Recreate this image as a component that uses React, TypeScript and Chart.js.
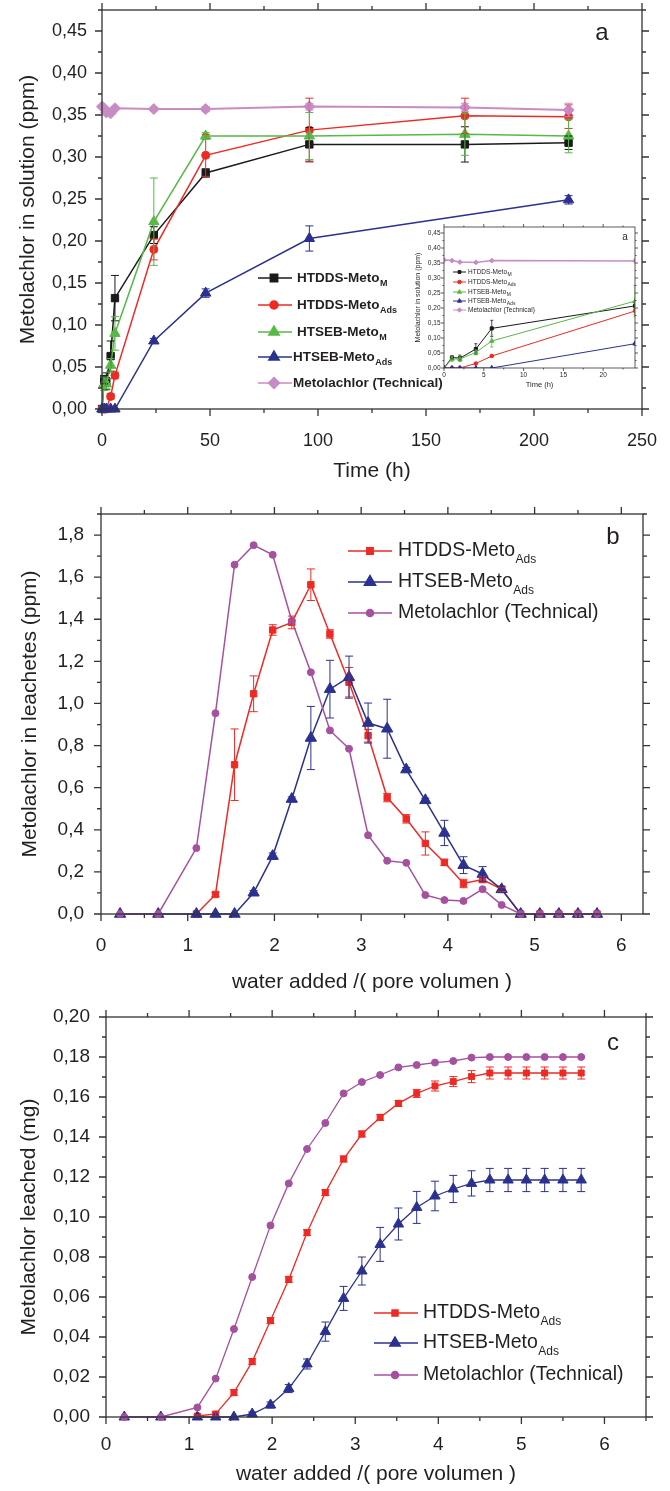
import React, { useEffect, useRef } from 'react';
import { Chart, registerables } from 'chart.js';
import { drawPoint } from 'chart.js/helpers';

Chart.register(...registerables);

const FONT = '"Liberation Sans", Arial, Helvetica, sans-serif';
const TXT = '#231f20';
const BLACK = '#1a1a1a';
const RED = '#ee2a24';
const GREEN = '#58b947';
const BLUE = '#2b3190';
const LILAC = '#c98bc4';
const PURPLE = '#a5519f';

// ---------- Panel a : Metolachlor in solution vs time ----------
const timeA = [0, 1, 2, 4, 6, 24, 48, 96, 168, 216];
const htddsM_A = [0, 0.035, 0.033, 0.063, 0.132, 0.207, 0.281, 0.315, 0.315, 0.317];
const htddsM_AErr = [0, 0.005, 0.01, 0.018, 0.027, 0.01, 0.005, 0.02, 0.021, 0.008];
const htddsAds_A = [0, 0, 0, 0.015, 0.04, 0.19, 0.302, 0.332, 0.349, 0.348];
const htddsAds_AErr = [0, 0, 0, 0.003, 0.004, 0.0125, 0.025, 0.038, 0.021, 0.014];
const htsebM_A = [0, 0.03, 0.03, 0.052, 0.09, 0.223, 0.325, 0.325, 0.327, 0.325];
const htsebM_AErr = [0, 0.008, 0.006, 0.008, 0.02, 0.052, 0.004, 0.028, 0.025, 0.02];
const htsebAds_A = [0, 0, 0, 0, 0, 0.081, 0.138, 0.203, null, 0.249];
const htsebAds_AErr = [0, 0, 0, 0, 0, 0.003, 0.005, 0.015, null, 0.005];
const technical_A = [0.36, 0.358, 0.353, 0.352, 0.358, 0.357, 0.357, 0.36, 0.359, 0.356];
const technical_AErr = [0, 0, 0, 0, 0, 0.002, 0.003, 0.004, 0.005, 0.008];
const namesA = ['HTDDS-Meto', 'HTDDS-Meto', 'HTSEB-Meto', 'HTSEB-Meto', 'Metolachlor (Technical)'];
const subsA = ['M', 'Ads', 'M', 'Ads', ''];
const xTicksA = [0, 50, 100, 150, 200, 250];
const yTicksA = [0, 0.05, 0.1, 0.15, 0.2, 0.25, 0.3, 0.35, 0.4, 0.45];
const xTicksInset = [0, 5, 10, 15, 20];

// ---------- Panel b : Metolachlor in leachates ----------
const poreB = [0.22, 0.66, 1.1, 1.32, 1.54, 1.76, 1.98, 2.2, 2.42, 2.64, 2.86, 3.08, 3.3, 3.52, 3.74, 3.96, 4.18, 4.4, 4.62, 4.84, 5.06, 5.28, 5.5, 5.72];
const htddsAds_B = [null, null, 0, 0.093, 0.709, 1.046, 1.349, 1.385, 1.564, 1.33, 1.101, 0.847, 0.553, 0.452, 0.335, 0.245, 0.145, 0.164, 0.117, 0, 0, 0, 0, 0];
const htddsAds_BErr = [null, null, 0, 0.01, 0.17, 0.085, 0.025, 0.03, 0.075, 0.02, 0.07, 0.03, 0.02, 0.02, 0.055, 0.015, 0.02, 0.015, 0.01, 0, 0, 0, 0, 0];
const htsebAds_B = [0, 0, 0, 0, 0, 0.101, 0.275, 0.546, 0.836, 1.068, 1.125, 0.907, 0.88, 0.686, 0.54, 0.385, 0.232, 0.19, 0.117, 0, 0, 0, 0, 0];
const htsebAds_BErr = [0, 0, 0, 0, 0, 0.01, 0.015, 0.01, 0.15, 0.137, 0.1, 0.095, 0.14, 0.01, 0.01, 0.06, 0.04, 0.035, 0.015, 0, 0, 0, 0, 0];
const technical_B = [0, 0, 0.313, 0.954, 1.659, 1.752, 1.706, 1.393, 1.148, 0.872, 0.785, 0.374, 0.253, 0.243, 0.09, 0.066, 0.062, 0.118, 0.043, 0, 0, 0, 0, 0];
const namesBC = ['HTDDS-Meto', 'HTSEB-Meto', 'Metolachlor (Technical)'];
const subsBC = ['Ads', 'Ads', ''];
const xTicksBC = [0, 1, 2, 3, 4, 5, 6];
const yTicksB = [0, 0.2, 0.4, 0.6, 0.8, 1.0, 1.2, 1.4, 1.6, 1.8];

// ---------- Panel c : cumulative Metolachlor leached ----------
const poreC = [0.22, 0.66, 1.1, 1.32, 1.54, 1.76, 1.98, 2.2, 2.42, 2.64, 2.86, 3.08, 3.3, 3.52, 3.74, 3.96, 4.18, 4.4, 4.62, 4.84, 5.06, 5.28, 5.5, 5.72];
const htddsAds_C = [null, null, 0.0005, 0.0015, 0.0122, 0.0277, 0.0482, 0.0688, 0.0922, 0.1122, 0.129, 0.1415, 0.1498, 0.1568, 0.1618, 0.1655, 0.1677, 0.1702, 0.172, 0.172, 0.172, 0.172, 0.172, 0.172];
const htddsAds_CErr = [null, null, 0.0005, 0.001, 0.0015, 0.0015, 0.0015, 0.0015, 0.0015, 0.0015, 0.0015, 0.0015, 0.0015, 0.0015, 0.002, 0.0025, 0.0025, 0.003, 0.003, 0.003, 0.003, 0.003, 0.003, 0.003];
const htsebAds_C = [0, 0, 0, 0, 0, 0.0015, 0.006, 0.0142, 0.0265, 0.0427, 0.0593, 0.073, 0.0863, 0.0965, 0.1048, 0.1105, 0.114, 0.1168, 0.1185, 0.1185, 0.1185, 0.1185, 0.1185, 0.1185];
const htsebAds_CErr = [0, 0, 0, 0, 0, 0.001, 0.0015, 0.002, 0.0025, 0.0048, 0.006, 0.007, 0.0085, 0.008, 0.008, 0.0074, 0.0068, 0.0063, 0.0058, 0.0058, 0.0058, 0.0058, 0.0058, 0.0058];
const technical_C = [0, 0, 0.0048, 0.0192, 0.044, 0.07, 0.0958, 0.1168, 0.134, 0.147, 0.1618, 0.1675, 0.171, 0.1748, 0.176, 0.1772, 0.178, 0.1797, 0.18, 0.18, 0.18, 0.18, 0.18, 0.18];
const yTicksC = [0, 0.02, 0.04, 0.06, 0.08, 0.1, 0.12, 0.14, 0.16, 0.18, 0.2];

// ---------- helpers ----------
const comma = (d: number) => (v: number) => Number(v).toFixed(d).replace('.', ',');

function series(xs: number[], ys: any[], errs: any[], color: string, style: string, radius: number, lw: number, order: number, extra: any = {}) {
  return {
    data: xs.map((x, i) => ({ x, y: ys[i] })),
    errorBars: errs,
    borderColor: color,
    backgroundColor: color,
    pointBackgroundColor: color,
    pointBorderColor: color,
    pointStyle: style,
    pointRadius: radius,
    pointBorderWidth: 1,
    borderWidth: lw,
    tension: 0,
    spanGaps: true,
    clip: false,
    order,
    ...extra,
  };
}

function axis(o: any) {
  return {
    type: 'linear',
    min: o.min,
    max: o.max,
    bounds: 'data',
    grid: { display: false, drawTicks: false },
    border: { display: false },
    afterBuildTicks: (s: any) => {
      s.ticks = o.ticks.map((v: number) => ({ value: v }));
    },
    ticks: {
      padding: o.tickPad,
      font: { family: FONT, size: o.font },
      color: TXT,
      autoSkip: false,
      maxRotation: 0,
      minRotation: 0,
      callback: (v: any) => o.fmt(v),
    },
    title: {
      display: true,
      text: o.title,
      color: TXT,
      font: { family: FONT, size: o.titleFont },
      padding: o.titlePad,
    },
    afterFit: (s: any) => {
      if (o.horizontal) {
        s.height = o.size;
        s.paddingLeft = 0;
        s.paddingRight = 0;
      } else {
        s.width = o.size;
        s.paddingTop = 0;
        s.paddingBottom = 0;
      }
    },
  };
}

function framePlugin(o: any) {
  return {
    id: 'frame',
    afterDatasetsDraw(chart: any) {
      const { ctx, chartArea: ca, scales } = chart;
      const xs = scales.x;
      const ys = scales.y;
      ctx.save();
      ctx.strokeStyle = o.color;
      ctx.lineWidth = o.width;
      ctx.beginPath();
      const tick = (scale: any, major: number, minor: number, fn: any) => {
        const n = Math.floor((scale.max - scale.min) / minor + 1e-6);
        for (let i = 0; i <= n; i++) {
          const v = scale.min + i * minor;
          const isMajor = Math.abs(v / major - Math.round(v / major)) < 1e-6;
          fn(scale.getPixelForValue(v), isMajor ? o.majorLen : o.minorLen);
        }
      };
      tick(xs, o.xMajor, o.xMinor, (p: number, L: number) => {
        ctx.moveTo(p, ca.bottom);
        ctx.lineTo(p, ca.bottom + L);
        ctx.moveTo(p, ca.top);
        ctx.lineTo(p, ca.top - L);
      });
      tick(ys, o.yMajor, o.yMinor, (p: number, L: number) => {
        ctx.moveTo(ca.left, p);
        ctx.lineTo(ca.left - L, p);
        ctx.moveTo(ca.right, p);
        ctx.lineTo(ca.right + L, p);
      });
      ctx.stroke();
      ctx.strokeRect(ca.left, ca.top, ca.right - ca.left, ca.bottom - ca.top);
      ctx.restore();
    },
  };
}

function errorBarPlugin(o: any) {
  return {
    id: 'errorBars',
    afterDatasetsDraw(chart: any) {
      const { ctx, chartArea: ca } = chart;
      const yS = chart.scales.y;
      ctx.save();
      if (o.clip) {
        ctx.beginPath();
        ctx.rect(ca.left, ca.top, ca.right - ca.left, ca.bottom - ca.top);
        ctx.clip();
      }
      chart.data.datasets.forEach((ds: any, i: number) => {
        const errs = ds.errorBars;
        if (!errs) return;
        const meta = chart.getDatasetMeta(i);
        ctx.strokeStyle = ds.borderColor;
        ctx.lineWidth = o.width;
        meta.data.forEach((pt: any, j: number) => {
          const e = errs[j];
          const v = ds.data[j].y;
          if (e == null || v == null || e <= 0) return;
          const yT = yS.getPixelForValue(v + e);
          const yB = yS.getPixelForValue(v - e);
          const x = pt.x;
          ctx.beginPath();
          ctx.moveTo(x, yT);
          ctx.lineTo(x, yB);
          ctx.moveTo(x - o.cap, yT);
          ctx.lineTo(x + o.cap, yT);
          ctx.moveTo(x - o.cap, yB);
          ctx.lineTo(x + o.cap, yB);
          ctx.stroke();
        });
      });
      ctx.restore();
    },
  };
}

function legendPlugin(o: any) {
  return {
    id: 'subLegend',
    afterDraw(chart: any) {
      const ctx = chart.ctx;
      ctx.save();
      o.items.forEach((it: any) => {
        ctx.strokeStyle = it.color;
        ctx.lineWidth = o.lineWidth;
        ctx.beginPath();
        ctx.moveTo(o.x0, it.y);
        ctx.lineTo(o.x1, it.y);
        ctx.stroke();
        ctx.fillStyle = it.color;
        ctx.strokeStyle = it.color;
        drawPoint(ctx, { pointStyle: it.style, radius: it.radius, borderWidth: 1, rotation: 0 }, o.mx, it.y);
        ctx.fillStyle = TXT;
        ctx.textAlign = 'left';
        ctx.textBaseline = 'middle';
        ctx.font = o.font;
        const tx = it.tx != null ? it.tx : o.tx;
        ctx.fillText(it.text, tx, it.y);
        if (it.sub) {
          const w = ctx.measureText(it.text).width;
          ctx.font = o.subFont;
          ctx.fillText(it.sub, tx + w + 0.5, it.y + o.subDy);
        }
      });
      ctx.restore();
    },
  };
}

function textPlugin(text: string, x: number, y: number, font: string) {
  return {
    id: 'panelLabel',
    afterDraw(chart: any) {
      const ctx = chart.ctx;
      ctx.save();
      ctx.fillStyle = TXT;
      ctx.font = font;
      ctx.textAlign = 'center';
      ctx.textBaseline = 'middle';
      ctx.fillText(text, x, y);
      ctx.restore();
    },
  };
}

const areaBgPlugin = {
  id: 'areaBg',
  beforeDraw(chart: any) {
    const { ctx, chartArea: ca } = chart;
    ctx.save();
    ctx.fillStyle = '#ffffff';
    ctx.fillRect(ca.left, ca.top, ca.right - ca.left, ca.bottom - ca.top);
    ctx.restore();
  },
};

const baseOptions = (padding: any, scales: any) => ({
  responsive: false,
  animation: false,
  events: [],
  layout: { padding },
  plugins: { legend: { display: false }, tooltip: { enabled: false } },
  scales,
});

// ---------- configs ----------
function configA(): any {
  return {
    type: 'line',
    data: {
      datasets: [
        series(timeA, htddsM_A, htddsM_AErr, BLACK, 'rect', 5.2, 1.5, 4),
        series(timeA, htddsAds_A, htddsAds_AErr, RED, 'circle', 4, 1.5, 3),
        series(timeA, htsebM_A, htsebM_AErr, GREEN, 'triangle', 6, 1.5, 2),
        series(timeA, htsebAds_A, htsebAds_AErr, BLUE, 'triangle', 6, 1.5, 1),
        series(timeA, technical_A, technical_AErr, LILAC, 'rectRot', 5.5, 2, 0),
      ],
    },
    options: baseOptions({ left: 0, right: 28, top: 10, bottom: 0 }, {
      x: axis({ min: 0, max: 250, ticks: xTicksA, fmt: (v: number) => String(v), font: 18, tickPad: 21, title: 'Time (h)', titleFont: 21, titlePad: { top: 0, bottom: 6 }, size: 81, horizontal: true }),
      y: axis({ min: 0, max: 0.475, ticks: yTicksA, fmt: comma(2), font: 18, tickPad: 15, title: 'Metolachlor in solution (ppm)', titleFont: 21, titlePad: { top: 15.4, bottom: 0 }, size: 102 }),
    }),
    plugins: [
      errorBarPlugin({ cap: 4, width: 1, clip: false }),
      framePlugin({ xMajor: 50, xMinor: 25, yMajor: 0.05, yMinor: 0.025, majorLen: 7, minorLen: 4, width: 1.3, color: '#333' }),
      legendPlugin({
        x0: 258, x1: 292, mx: 274, tx: 297, lineWidth: 1.5,
        font: 'bold 13.5px ' + FONT, subFont: 'bold 9px ' + FONT, subDy: 6,
        items: [
          { text: namesA[0], sub: subsA[0], color: BLACK, style: 'rect', radius: 5.2, y: 278 },
          { text: namesA[1], sub: subsA[1], color: RED, style: 'circle', radius: 4, y: 305 },
          { text: namesA[2], sub: subsA[2], color: GREEN, style: 'triangle', radius: 6, y: 332 },
          { text: namesA[3], sub: subsA[3], color: BLUE, style: 'triangle', radius: 6, y: 357, tx: 293 },
          { text: namesA[4], sub: subsA[4], color: LILAC, style: 'rectRot', radius: 5.5, y: 383, tx: 293 },
        ],
      }),
      textPlugin('a', 602, 33, '24px ' + FONT),
    ],
  };
}

function configInset(): any {
  const ex = { clip: undefined };
  return {
    type: 'line',
    data: {
      datasets: [
        series(timeA, htddsM_A, htddsM_AErr, BLACK, 'rect', 2.2, 1, 4, ex),
        series(timeA, htddsAds_A, htddsAds_AErr, RED, 'circle', 1.8, 1, 3, ex),
        series(timeA, htsebM_A, htsebM_AErr, GREEN, 'triangle', 2.6, 1, 2, ex),
        series(timeA, htsebAds_A, htsebAds_AErr, BLUE, 'triangle', 2.6, 1, 1, ex),
        series(timeA, technical_A, technical_AErr, LILAC, 'rectRot', 2.4, 1.5, 0, ex),
      ],
    },
    options: baseOptions({ left: 0, right: 5, top: 7, bottom: 0 }, {
      x: axis({ min: 0, max: 24, ticks: xTicksInset, fmt: (v: number) => String(v), font: 6.5, tickPad: 3, title: 'Time (h)', titleFont: 7.5, titlePad: { top: 0, bottom: 10.5 }, size: 32, horizontal: true }),
      y: axis({ min: 0, max: 0.47, ticks: yTicksA, fmt: comma(2), font: 6.5, tickPad: 3.5, title: 'Metolachlor in solution (ppm)', titleFont: 7, titlePad: { top: 13.8, bottom: 0 }, size: 44 }),
    }),
    plugins: [
      areaBgPlugin,
      errorBarPlugin({ cap: 1.5, width: 0.8, clip: true }),
      framePlugin({ xMajor: 5, xMinor: 2.5, yMajor: 0.05, yMinor: 0.025, majorLen: 3, minorLen: 1.5, width: 0.8, color: '#333' }),
      legendPlugin({
        x0: 53, x1: 66, mx: 59.5, tx: 68, lineWidth: 1,
        font: '6.5px ' + FONT, subFont: '5px ' + FONT, subDy: 2.5,
        items: [
          { text: namesA[0], sub: subsA[0], color: BLACK, style: 'rect', radius: 2, y: 52 },
          { text: namesA[1], sub: subsA[1], color: RED, style: 'circle', radius: 1.8, y: 62 },
          { text: namesA[2], sub: subsA[2], color: GREEN, style: 'triangle', radius: 2.4, y: 72 },
          { text: namesA[3], sub: subsA[3], color: BLUE, style: 'triangle', radius: 2.4, y: 81 },
          { text: namesA[4], sub: subsA[4], color: LILAC, style: 'rectRot', radius: 2.2, y: 90 },
        ],
      }),
      textPlugin('a', 225, 17, '10px ' + FONT),
    ],
  };
}

function configB(): any {
  return {
    type: 'line',
    data: {
      datasets: [
        series(poreB, htddsAds_B, htddsAds_BErr, RED, 'rect', 4.5, 1.5, 2),
        series(poreB, htsebAds_B, htsebAds_BErr, BLUE, 'triangle', 6.5, 1.5, 1),
        series(poreB, technical_B, null, PURPLE, 'circle', 3.5, 1.5, 0),
      ],
    },
    options: baseOptions({ left: 0, right: 27, top: 24, bottom: 0 }, {
      x: axis({ min: 0, max: 6.25, ticks: xTicksBC, fmt: (v: number) => String(v), font: 19, tickPad: 20.5, title: 'water added /( pore volumen )', titleFont: 21, titlePad: { top: 0, bottom: 5.4 }, size: 86, horizontal: true }),
      y: axis({ min: 0, max: 1.9, ticks: yTicksB, fmt: comma(1), font: 19, tickPad: 17, title: 'Metolachlor in leachetes (ppm)', titleFont: 21, titlePad: { top: 17.4, bottom: 0 }, size: 101 }),
    }),
    plugins: [
      errorBarPlugin({ cap: 4, width: 1, clip: false }),
      framePlugin({ xMajor: 1, xMinor: 0.5, yMajor: 0.2, yMinor: 0.1, majorLen: 7, minorLen: 4, width: 1.3, color: '#333' }),
      legendPlugin({
        x0: 348, x1: 392, mx: 370, tx: 398, lineWidth: 1.5,
        font: '19.5px ' + FONT, subFont: '12px ' + FONT, subDy: 9,
        items: [
          { text: namesBC[0], sub: subsBC[0], color: RED, style: 'rect', radius: 4.5, y: 61 },
          { text: namesBC[1], sub: subsBC[1], color: BLUE, style: 'triangle', radius: 6.5, y: 92 },
          { text: namesBC[2], sub: subsBC[2], color: PURPLE, style: 'circle', radius: 3.5, y: 123 },
        ],
      }),
      textPlugin('b', 613, 47, '24px ' + FONT),
    ],
  };
}

function configC(): any {
  return {
    type: 'line',
    data: {
      datasets: [
        series(poreC, htddsAds_C, htddsAds_CErr, RED, 'rect', 4.2, 1.3, 2),
        series(poreC, htsebAds_C, htsebAds_CErr, BLUE, 'triangle', 6, 1.3, 1),
        series(poreC, technical_C, null, PURPLE, 'circle', 3.5, 1.3, 0),
      ],
    },
    options: baseOptions({ left: 0, right: 24, top: 17, bottom: 0 }, {
      x: axis({ min: 0, max: 6.5, ticks: xTicksBC, fmt: (v: number) => String(v), font: 19, tickPad: 16.6, title: 'water added /( pore volumen )', titleFont: 21, titlePad: { top: 0, bottom: 4.4 }, size: 74, horizontal: true }),
      y: axis({ min: 0, max: 0.2, ticks: yTicksC, fmt: comma(2), font: 19, tickPad: 16, title: 'Metolachlor leached (mg)', titleFont: 21, titlePad: { top: 16.4, bottom: 0 }, size: 106 }),
    }),
    plugins: [
      errorBarPlugin({ cap: 4, width: 1, clip: false }),
      framePlugin({ xMajor: 1, xMinor: 0.5, yMajor: 0.02, yMinor: 0.01, majorLen: 7, minorLen: 4, width: 1.3, color: '#333' }),
      legendPlugin({
        x0: 374, x1: 418, mx: 395, tx: 423, lineWidth: 1.5,
        font: '19.5px ' + FONT, subFont: '12px ' + FONT, subDy: 9,
        items: [
          { text: namesBC[0], sub: subsBC[0], color: RED, style: 'rect', radius: 4.2, y: 313 },
          { text: namesBC[1], sub: subsBC[1], color: BLUE, style: 'triangle', radius: 6, y: 343 },
          { text: namesBC[2], sub: subsBC[2], color: PURPLE, style: 'circle', radius: 3.5, y: 375 },
        ],
      }),
      textPlugin('c', 613, 43, '24px ' + FONT),
    ],
  };
}

export default function App() {
  const aRef = useRef<HTMLCanvasElement>(null);
  const insetRef = useRef<HTMLCanvasElement>(null);
  const bRef = useRef<HTMLCanvasElement>(null);
  const cRef = useRef<HTMLCanvasElement>(null);

  useEffect(() => {
    const charts = [
      new Chart(aRef.current as any, configA()),
      new Chart(insetRef.current as any, configInset()),
      new Chart(bRef.current as any, configB()),
      new Chart(cRef.current as any, configC()),
    ];
    return () => charts.forEach((c) => c.destroy());
  }, []);

  return (
    <div style={{ position: 'absolute', left: 0, top: 0, width: 670, height: 1491, background: '#ffffff' }}>
      <canvas ref={aRef} width={670} height={490} style={{ position: 'absolute', left: 0, top: 0 }} />
      <canvas ref={insetRef} width={240} height={180} style={{ position: 'absolute', left: 400, top: 220 }} />
      <canvas ref={bRef} width={670} height={510} style={{ position: 'absolute', left: 0, top: 490 }} />
      <canvas ref={cRef} width={670} height={491} style={{ position: 'absolute', left: 0, top: 1000 }} />
    </div>
  );
}
